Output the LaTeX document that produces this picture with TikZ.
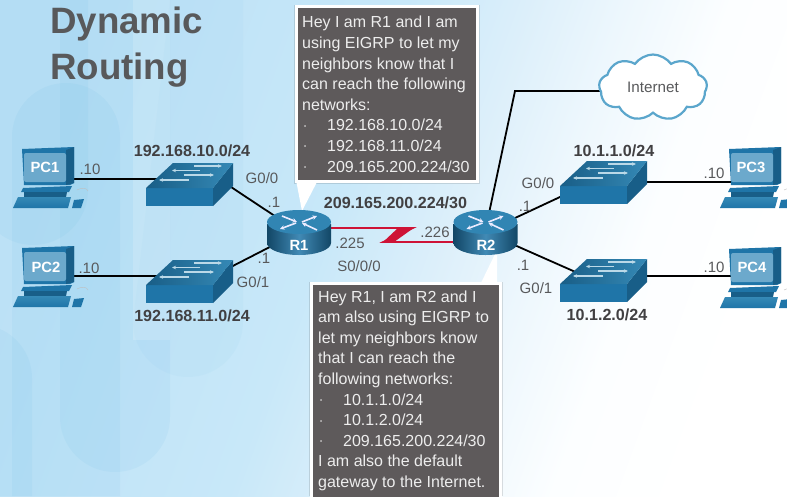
\documentclass[tikz,border=0pt]{standalone}
\usepackage{fontspec}
\setmainfont{Liberation Sans}
\usetikzlibrary{arrows.meta,shapes.symbols}
\pgfdeclarelayer{bgl}
\pgfdeclarelayer{linkl}
\pgfsetlayers{bgl,linkl,main}
\definecolor{lbl}{HTML}{58595B}
\definecolor{netl}{HTML}{414042}
\definecolor{boxc}{HTML}{5E5A5B}
\definecolor{blu}{HTML}{1F75A8}
\definecolor{bludk}{HTML}{185E88}
\definecolor{blult}{HTML}{3589B6}
\definecolor{scr}{HTML}{6CA9CC}
\definecolor{arrowc}{HTML}{BBD9E8}
\definecolor{serialc}{HTML}{CE1336}
\definecolor{cloudc}{HTML}{5BA6CC}
\definecolor{BGa}{HTML}{BCE1F6}
\definecolor{BGb}{HTML}{C8E8F9}
\definecolor{BGc}{HTML}{DCEFFA}
\definecolor{BGd}{HTML}{EDF7FD}
\definecolor{BGe}{HTML}{FCFEFF}
\definecolor{BGcap}{HTML}{6FBDE6}
\pgfdeclarehorizontalshading{bgs}{100bp}{color(0bp)=(BGa);color(25bp)=(BGa);color(45bp)=(BGb);color(53bp)=(BGc);color(59.5bp)=(BGd);color(66.5bp)=(BGe);color(75bp)=(white);color(100bp)=(white)}
\newcommand{\bulletitem}{\makebox[25pt][l]{\hspace{2pt}\raisebox{2.6pt}{\fontsize{6}{6}\selectfont•}}}
\tikzset{
  x=1pt,y=-1pt,
  lab/.style={text=lbl,font=\fontsize{15}{15}\selectfont,inner sep=0pt},
  netlab/.style={text=netl,font=\bfseries\fontsize{16.1}{16}\selectfont,inner sep=0pt},
  devlab/.style={text=white,font=\bfseries\fontsize{14.8}{15}\selectfont,inner sep=0pt},
  titlelab/.style={text=lbl,font=\bfseries\fontsize{36.7}{46}\selectfont,inner sep=0pt,anchor=base west},
  wire/.style={draw=black,line width=1.8pt},
  capsule/.style={fill=BGcap,fill opacity=.1},
  lightcap/.style={fill=white,fill opacity=.16},
  bubble/.style={fill=boxc,draw=white,line width=3pt,inner sep=0pt,anchor=north west},
  bubbletxt/.style={text=white!93!black,font=\fontsize{16}{20.6}\selectfont,align=left,inner sep=0pt,anchor=north west},
  harrow/.style={draw=arrowc,line width=1.1pt,-{Stealth[length=4pt,width=3.5pt]}},
  rarrow/.style={draw=white!92!blue,line width=1.6pt,-{Stealth[length=4.5pt,width=4.5pt]}},
  switchicon/.pic={
    \coordinate (-w) at (20,-9);
    \coordinate (-e) at (80,-9);
    \fill[bludk] (67,0) -- (87,-25) -- (87,-2) -- (67,18) -- cycle;
    \fill[blu] (0,0) rectangle (67,18);
    \shade[left color=blu!80!black,right color=blult] (0,0) -- (27,-25) -- (87,-25) -- (67,0) -- cycle;
    \draw[harrow] (48,-22) -- (76,-22);
    \draw[harrow] (54,-17.5) -- (26,-17.5);
    \draw[harrow] (38,-13) -- (68,-13);
    \draw[harrow] (43,-8) -- (13,-8);
  },
  routericon/.pic={
    \shade[left color=bludk!75!black,right color=bludk!75!black,middle color=blu!85!white] (-32,2) -- (-32,21) arc[start angle=180,end angle=0,x radius=32,y radius=12] -- (32,2) -- cycle;
    \fill[blult!80!blu] (0,0) ellipse[x radius=32,y radius=12];
    \draw[rarrow] (-17,-6) -- (-2,0);
    \draw[rarrow] (3,0) -- (18,-6);
    \draw[rarrow] (-3,1) -- (-19,7);
    \draw[rarrow] (18,8) -- (3,1);
  },
  pcicon/.pic={
    \coordinate (-e) at (50,30);
    \fill[blu] (0,1) -- (52,-1) -- (52,35) -- (48,37) -- (2,37) -- cycle;
    \fill[bludk] (44,2) -- (52,-1) -- (52,35) -- (44,37) -- cycle;
    \fill[scr,rounded corners=2pt] (2,5) rectangle (44,34);
    \fill[blu] (1,40) -- (50,38) -- (47,44) -- (-1,44) -- cycle;
    \fill[bludk] (2,44) -- (45,44) -- (44,49) -- (2,49) -- cycle;
    \shade[top color=blult,bottom color=blu] (-4,49) -- (49,49) -- (46,60) -- (-9,60) -- cycle;
    \fill[blu] (52,52) -- (62,51) -- (59,60) -- (50,60) -- cycle;
    \draw[black!25,line width=.4pt] (55,42) .. controls (60,39) and (65,40) .. (66,43);
  }
}
\begin{document}
\begin{tikzpicture}
\useasboundingbox (0,0) rectangle (787,496);
\begin{pgfonlayer}{bgl}
  \shade[shading=bgs,shading angle=-20] (0,0) rectangle (787,496);
  \fill[capsule] (12,137) arc[start angle=180,end angle=360,radius=54] -- (120,496) -- (12,496) -- cycle;
  \fill[capsule] (-22,0) -- (88,0) -- (88,190) arc[start angle=0,end angle=180,radius=55] -- cycle;
  \fill[capsule] (60,0) -- (170,0) -- (170,417) arc[start angle=0,end angle=180,radius=55] -- cycle;
  \fill[capsule] (-75,378) arc[start angle=180,end angle=360,radius=53.5] -- (32,496) -- (-75,496) -- cycle;
  \fill[capsule,fill opacity=.06] (170,0) -- (243,0) -- (243,322) arc[start angle=0,end angle=180,radius=55] -- (170,0) -- cycle;
  \fill[lightcap] (133,0) rectangle (170,340);
\end{pgfonlayer}

\node[titlelab] (title1) at (50,33) {Dynamic};
\node[titlelab] (title2) at (50,79) {Routing};

% callout bubbles
\fill[black,opacity=.12] (294.2,4.5) rectangle (479.8,183.8);
\fill[black,opacity=.12] (309.2,281.5) rectangle (502.8,496);
\fill[white] (296,180) -- (302,211) -- (318,180) -- cycle;
\fill[white] (480,285) -- (497,250) -- (497,285) -- cycle;
\node[bubble,minimum width=181,minimum height=175] (callR1) at (295,5) {};
\node[bubble,minimum width=189,minimum height=220] (callR2) at (310,282) {};
\node[bubbletxt] (textR1) at (302,16.2) {Hey I am R1 and I am\\
using EIGRP to let my\\
neighbors know that I\\
can reach the following\\
networks:\\
\bulletitem 192.168.10.0/24\\
\bulletitem 192.168.11.0/24\\
\bulletitem 209.165.200.224/30};
\node[bubbletxt] (textR2) at (318,290.2) {Hey R1, I am R2 and I\\
am also using EIGRP to\\
let my neighbors know\\
that I can reach the\\
following networks:\\
\bulletitem 10.1.1.0/24\\
\bulletitem 10.1.2.0/24\\
\bulletitem 209.165.200.224/30\\
I am also the default\\
gateway to the Internet.};

% devices
\pic (pcA) at (22,148) {pcicon};
\pic (pcB) at (22,247) {pcicon};
\pic (pcC) at (729,148) {pcicon};
\pic (pcD) at (729,248) {pcicon};
\pic (swA) at (146,188) {switchicon};
\pic (swB) at (146,285) {switchicon};
\pic (swC) at (560,186) {switchicon};
\pic (swD) at (560,284) {switchicon};
\pic (rA) at (299,222) {routericon};
\pic (rB) at (485.5,222) {routericon};
\coordinate (rAin) at (299,228);
\coordinate (rBin) at (485,242);
\coordinate (rAp) at (299,232);
\coordinate (rBp) at (485,232);
\coordinate (boltA) at (413,228);
\coordinate (boltB) at (383,242);
\coordinate (swAport) at (231,187);
\coordinate (swBport) at (225,270);
\coordinate (swCport) at (575,190);
\coordinate (swDport) at (580,274);
\coordinate (bend) at (515,91);
\coordinate (pcCport) at (740,182);
\coordinate (pcDport) at (740,276);

\node[cloud,cloud puffs=9,cloud puff arc=110,aspect=1.7,draw=cloudc,line width=2.2pt,fill=white,minimum width=108,minimum height=66,inner sep=0pt,text=lbl,font=\fontsize{15.2}{15}\selectfont] (inet) at (653,87.5) {Internet};
\coordinate (inetport) at (inet.center |- bend);

\begin{pgfonlayer}{linkl}
  \draw[wire] (pcA-e |- swA-w) -- (swA-w);
  \draw[wire] (pcB-e |- swB-w) -- (swB-w);
  \draw[wire] (pcCport) -- (swC-e |- pcCport);
  \draw[wire] (pcDport) -- (swD-e |- pcDport);
  \draw[wire] (swAport) -- (rAp);
  \draw[wire] (swBport) -- (rAp);
  \draw[wire] (rBp) -- (swCport);
  \draw[wire] (rBp) -- (swDport);
  \draw[wire] (rBp) -- (bend) -- (inetport);
  \draw[draw=serialc,line width=1.6pt] (rAin) -- (boltA) -- (boltB) -- (rBin);
  \fill[serialc] (398,228) -- (415,227) -- (394,242) -- (382,243) -- cycle;
\end{pgfonlayer}

% device labels
\node[devlab] (lpcA) at (45,167) {PC1};
\node[devlab] (lpcB) at (46,267) {PC2};
\node[devlab] (lpcC) at (751,167) {PC3};
\node[devlab] (lpcD) at (752,267) {PC4};
\node[devlab] (lrA) at (299,245) {R1};
\node[devlab] (lrB) at (486,245) {R2};

% network labels
\node[netlab] (n1) at (192,151) {192.168.10.0/24};
\node[netlab] (n2) at (192,316) {192.168.11.0/24};
\node[netlab] (n3) at (614,151) {10.1.1.0/24};
\node[netlab] (n4) at (607,315) {10.1.2.0/24};
\node[netlab] (n5) at (395.5,203) {209.165.200.224/30};

% interface labels
\node[lab] (a1) at (90,169) {.10};
\node[lab] (a2) at (89,268) {.10};
\node[lab] (a3) at (714,173) {.10};
\node[lab] (a4) at (714,267) {.10};
\node[lab] (g1) at (262,178) {G0/0};
\node[lab] (g2) at (253,282) {G0/1};
\node[lab] (g3) at (538,183) {G0/0};
\node[lab] (g4) at (536,288) {G0/1};
\node[lab] (d1) at (274,202) {.1};
\node[lab] (d2) at (264,258) {.1};
\node[lab] (d3) at (525,206) {.1};
\node[lab] (d4) at (523,265) {.1};
\node[lab] (s1) at (350,243) {.225};
\node[lab] (s2) at (435,232) {.226};
\node[lab] (s3) at (359,266) {S0/0/0};
\end{tikzpicture}
\end{document}
